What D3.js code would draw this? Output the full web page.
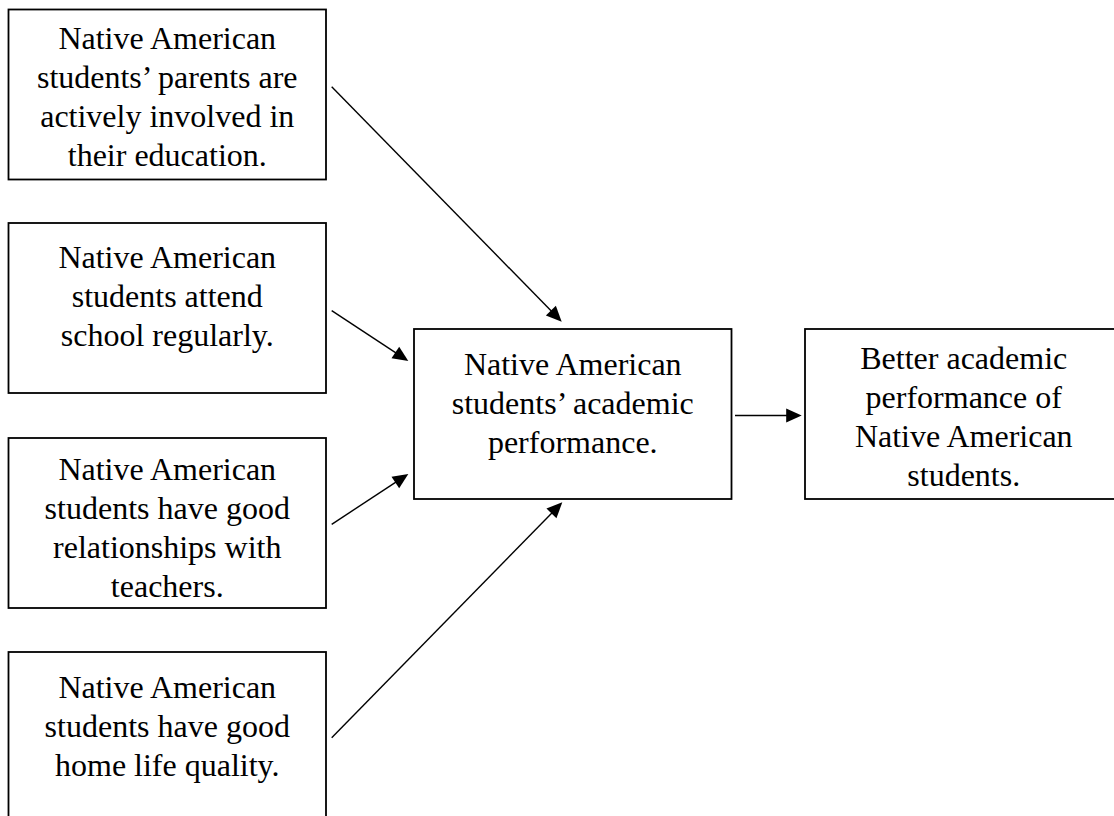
<!DOCTYPE html>
<html>
<head>
<meta charset="utf-8">
<script src="https://cdn.jsdelivr.net/npm/d3@7"></script>
<style>
  html, body { margin: 0; padding: 0; background: #fff; }
  svg { display: block; }
</style>
</head>
<body>
<div id="chart"></div>
<script>
// ---- data ----
const nodeIds = ["parents", "attendance", "teachers", "homelife", "performance", "outcome"];
const nodeLabels = [
  ["Native American", "students\u2019 parents are", "actively involved in", "their education."],
  ["Native American", "students attend", "school regularly."],
  ["Native American", "students have good", "relationships with", "teachers."],
  ["Native American", "students have good", "home life quality."],
  ["Native American", "students\u2019 academic", "performance."],
  ["Better academic", "performance of", "Native American", "students."]
];
const linkSources = ["parents", "attendance", "teachers", "homelife", "performance"];
const linkTargets = ["performance", "performance", "performance", "performance", "outcome"];

// ---- layout (positions kept separate from data) ----
const W = 1114, H = 816;
const boxW = 317.5, boxH = 170;
const colX = { 0: 8.5, 1: 414, 2: 805 };
const boxLayout = {
  parents:     { col: 0, y: 9.5,  textTop: 39.5 },
  attendance:  { col: 0, y: 223,  textTop: 45 },
  teachers:    { col: 0, y: 438,  textTop: 42 },
  homelife:    { col: 0, y: 652,  textTop: 45.7 },
  performance: { col: 1, y: 329,  textTop: 46 },
  outcome:     { col: 2, y: 329,  textTop: 40 }
};
const lineGap = 38.9;
const arrowLayout = [
  { x1: 331.7, y1: 86.7,  x2: 561.7, y2: 321.7 },
  { x1: 331.7, y1: 310.7, x2: 408.3, y2: 361 },
  { x1: 331.7, y1: 524.3, x2: 408.3, y2: 474 },
  { x1: 331.7, y1: 737.7, x2: 562.3, y2: 502.3 },
  { x1: 735,   y1: 415.5, x2: 801.7, y2: 415.5 }
];

const svg = d3.select("#chart").append("svg")
  .attr("width", W).attr("height", H);
svg.append("rect").attr("width", W).attr("height", H).attr("fill", "#fff");

const nodes = nodeIds.map((id, i) => ({ id, lines: nodeLabels[i], ...boxLayout[id] }));

const g = svg.selectAll("g.node").data(nodes).join("g").attr("class", "node")
  .attr("transform", d => `translate(${colX[d.col]},${d.y})`);

g.append("rect")
  .attr("width", boxW).attr("height", boxH)
  .attr("fill", "#fff").attr("stroke", "#000").attr("stroke-width", 1.8);

g.append("text")
  .attr("text-anchor", "middle")
  .attr("font-family", "'Liberation Serif', 'Times New Roman', serif")
  .attr("font-size", 32)
  .attr("fill", "#000")
  .selectAll("tspan").data(d => d.lines.map((t, i) => ({ t, i, top: d.textTop })))
  .join("tspan")
  .attr("x", boxW / 2)
  .attr("y", d => d.top + d.i * lineGap)
  .text(d => d.t);

// arrows
const links = linkSources.map((s, i) => ({ source: s, target: linkTargets[i], ...arrowLayout[i] }));
const headLen = 15.5, headHalf = 7;
const ag = svg.selectAll("g.link").data(links).join("g").attr("class", "link");
ag.each(function(d) {
  const dx = d.x2 - d.x1, dy = d.y2 - d.y1;
  const L = Math.hypot(dx, dy);
  const ux = dx / L, uy = dy / L;
  const bx = d.x2 - ux * headLen, by = d.y2 - uy * headLen;
  const sel = d3.select(this);
  sel.append("line")
    .attr("x1", d.x1).attr("y1", d.y1)
    .attr("x2", bx + ux * 2).attr("y2", by + uy * 2)
    .attr("stroke", "#000").attr("stroke-width", 1.4);
  const p = d3.path();
  p.moveTo(d.x2, d.y2);
  p.lineTo(bx - uy * headHalf, by + ux * headHalf);
  p.lineTo(bx + uy * headHalf, by - ux * headHalf);
  p.closePath();
  sel.append("path").attr("d", p.toString()).attr("fill", "#000");
});
</script>
</body>
</html>
